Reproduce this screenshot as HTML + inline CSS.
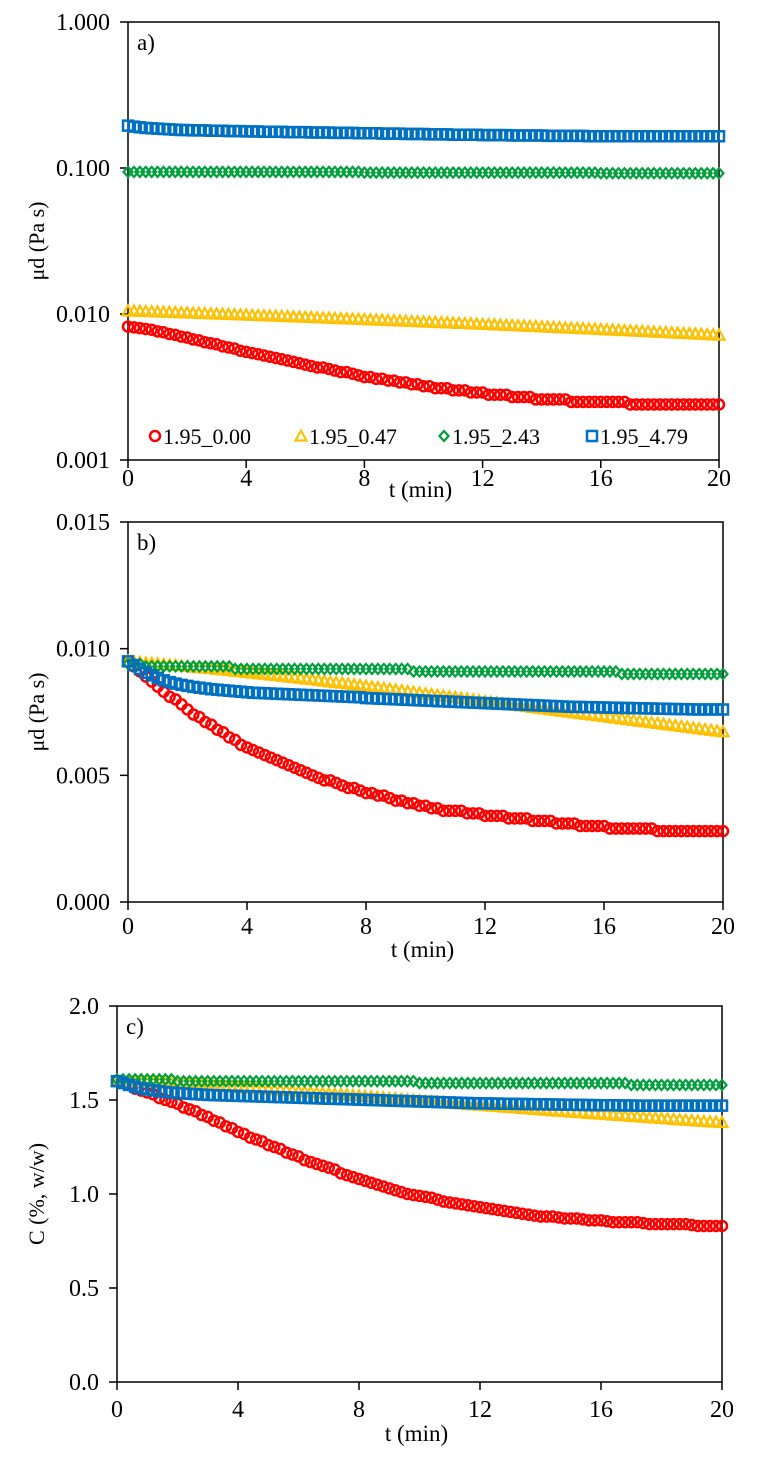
<!DOCTYPE html>
<html><head><meta charset="utf-8"><style>
body{margin:0;background:#fff;}
svg{display:block;font-family:"Liberation Serif",serif;}
</style></head><body>
<svg id="fig" width="757" height="1460" viewBox="0 0 757 1460"></svg>
<script>
const tValues = Array.from({length:101},(_,i)=>+(i*0.2).toFixed(1));
const seriesNames = ["1.95_0.00","1.95_0.47","1.95_2.43","1.95_4.79"];
const xTicks = [0,4,8,12,16,20];
// chart a (log)
const aRed = [0.0082,0.0081,0.0080,0.0079,0.0078,0.0076,0.0075,0.0073,0.0072,0.0070,0.0069,0.0067,0.0066,0.0064,0.0063,0.0062,0.0060,0.0059,0.0058,0.0056,
0.0055,0.0054,0.0053,0.0052,0.0051,0.0050,0.0049,0.0048,0.0047,0.0046,0.0045,0.0044,0.0043,0.0043,0.0042,0.0041,0.0040,0.0040,0.0039,0.0038,
0.0037,0.0037,0.0036,0.0036,0.0035,0.0035,0.0034,0.0034,0.0033,0.0033,0.0032,0.0032,0.0031,0.0031,0.0031,0.0030,0.0030,0.0030,0.0029,0.0029,
0.0029,0.0028,0.0028,0.0028,0.0028,0.0027,0.0027,0.0027,0.0027,0.0026,0.0026,0.0026,0.0026,0.0026,0.0026,0.0025,0.0025,0.0025,0.0025,0.0025,
0.0025,0.0025,0.0025,0.0025,0.0025,0.0024,0.0024,0.0024,0.0024,0.0024,0.0024,0.0024,0.0024,0.0024,0.0024,0.0024,0.0024,0.0024,0.0024,0.0024,0.0024];
const aYellow = [0.01050,0.01047,0.01043,0.01040,0.01037,0.01033,0.01030,0.01027,0.01023,0.01020,0.01017,0.01013,0.01010,0.01007,0.01003,0.01000,0.00997,0.00993,0.00990,0.00987,
0.00983,0.00980,0.00977,0.00973,0.00970,0.00967,0.00963,0.00960,0.00957,0.00953,0.00950,0.00947,0.00943,0.00940,0.00937,0.00933,0.00930,0.00927,0.00923,0.00920,
0.00917,0.00913,0.00910,0.00907,0.00903,0.00900,0.00897,0.00893,0.00890,0.00887,0.00883,0.00880,0.00877,0.00873,0.00870,0.00867,0.00863,0.00860,0.00857,0.00853,
0.00850,0.00847,0.00843,0.00840,0.00837,0.00833,0.00830,0.00827,0.00823,0.00820,0.00817,0.00813,0.00810,0.00807,0.00803,0.00800,0.00797,0.00793,0.00790,0.00787,
0.00783,0.00780,0.00777,0.00773,0.00770,0.00767,0.00763,0.00760,0.00757,0.00753,0.00750,0.00747,0.00743,0.00740,0.00737,0.00733,0.00730,0.00727,0.00723,0.00720,0.00717];
const aGreen = [0.094,0.094,0.094,0.094,0.094,0.094,0.094,0.094,0.094,0.094,0.094,0.094,0.094,0.094,0.094,0.094,0.094,0.094,0.094,0.094,
0.094,0.094,0.094,0.094,0.094,0.094,0.094,0.094,0.094,0.094,0.094,0.094,0.094,0.094,0.094,0.094,0.094,0.094,0.094,0.094,
0.093,0.093,0.093,0.093,0.093,0.093,0.093,0.093,0.093,0.093,0.093,0.093,0.093,0.093,0.093,0.093,0.093,0.093,0.093,0.093,
0.093,0.093,0.093,0.093,0.093,0.093,0.093,0.093,0.093,0.093,0.093,0.093,0.093,0.093,0.093,0.093,0.093,0.093,0.093,0.093,
0.092,0.092,0.092,0.092,0.092,0.092,0.092,0.092,0.092,0.092,0.092,0.092,0.092,0.092,0.092,0.092,0.092,0.092,0.092,0.092,0.092];
const aBlue = [0.195,0.192,0.190,0.188,0.187,0.186,0.185,0.184,0.183,0.182,0.182,0.181,0.181,0.181,0.180,0.180,0.180,0.179,0.179,0.179,
0.178,0.178,0.178,0.177,0.177,0.177,0.177,0.176,0.176,0.176,0.176,0.175,0.175,0.175,0.175,0.174,0.174,0.174,0.174,0.173,
0.173,0.173,0.173,0.172,0.172,0.172,0.172,0.171,0.171,0.171,0.171,0.170,0.170,0.170,0.170,0.169,0.169,0.169,0.169,0.169,
0.168,0.168,0.168,0.168,0.168,0.167,0.167,0.167,0.167,0.167,0.167,0.166,0.166,0.166,0.166,0.166,0.166,0.166,0.165,0.165,
0.165,0.165,0.165,0.165,0.165,0.165,0.165,0.165,0.165,0.165,0.165,0.165,0.165,0.165,0.165,0.165,0.165,0.165,0.165,0.165,0.165];
const aTicks = [0.001,0.01,0.1,1];
const aTickLabels = ["0.001","0.010","0.100","1.000"];
// chart b (linear)
const bRed = [0.0095,0.0093,0.0091,0.0089,0.0087,0.0085,0.0083,0.0081,0.0080,0.0078,0.0076,0.0074,0.0073,0.0071,0.0070,0.0068,0.0067,0.0065,0.0064,0.0062,
0.0061,0.0060,0.0059,0.0058,0.0057,0.0056,0.0055,0.0054,0.0053,0.0052,0.0051,0.0050,0.0049,0.0048,0.0048,0.0047,0.0046,0.0045,0.0045,0.0044,
0.0043,0.0043,0.0042,0.0042,0.0041,0.0040,0.0040,0.0039,0.0039,0.0038,0.0038,0.0037,0.0037,0.0036,0.0036,0.0036,0.0036,0.0035,0.0035,0.0035,
0.0034,0.0034,0.0034,0.0034,0.0033,0.0033,0.0033,0.0033,0.0032,0.0032,0.0032,0.0032,0.0031,0.0031,0.0031,0.0031,0.0030,0.0030,0.0030,0.0030,
0.0030,0.0029,0.0029,0.0029,0.0029,0.0029,0.0029,0.0029,0.0029,0.0028,0.0028,0.0028,0.0028,0.0028,0.0028,0.0028,0.0028,0.0028,0.0028,0.0028,0.0028];
const bYellow = [0.00950,0.00948,0.00946,0.00944,0.00942,0.00940,0.00938,0.00936,0.00934,0.00932,0.00930,0.00927,0.00925,0.00923,0.00921,0.00918,0.00916,0.00914,0.00911,0.00909,
0.00906,0.00904,0.00901,0.00899,0.00896,0.00894,0.00891,0.00888,0.00886,0.00883,0.00880,0.00878,0.00875,0.00872,0.00869,0.00866,0.00864,0.00861,0.00858,0.00855,
0.00852,0.00849,0.00846,0.00843,0.00840,0.00837,0.00834,0.00831,0.00828,0.00825,0.00822,0.00819,0.00816,0.00813,0.00810,0.00807,0.00804,0.00801,0.00798,0.00795,
0.00792,0.00789,0.00786,0.00783,0.00780,0.00777,0.00774,0.00771,0.00768,0.00765,0.00762,0.00759,0.00756,0.00753,0.00750,0.00747,0.00744,0.00741,0.00738,0.00735,
0.00732,0.00729,0.00726,0.00723,0.00720,0.00717,0.00714,0.00711,0.00708,0.00705,0.00702,0.00699,0.00696,0.00693,0.00690,0.00687,0.00684,0.00681,0.00678,0.00675,0.00672];
const bGreen = [0.0094,0.0094,0.0094,0.0093,0.0093,0.0093,0.0093,0.0093,0.0093,0.0093,0.0093,0.0093,0.0093,0.0093,0.0093,0.0093,0.0093,0.0093,0.0092,0.0092,
0.0092,0.0092,0.0092,0.0092,0.0092,0.0092,0.0092,0.0092,0.0092,0.0092,0.0092,0.0092,0.0092,0.0092,0.0092,0.0092,0.0092,0.0092,0.0092,0.0092,
0.0092,0.0092,0.0092,0.0092,0.0092,0.0092,0.0092,0.0092,0.0091,0.0091,0.0091,0.0091,0.0091,0.0091,0.0091,0.0091,0.0091,0.0091,0.0091,0.0091,
0.0091,0.0091,0.0091,0.0091,0.0091,0.0091,0.0091,0.0091,0.0091,0.0091,0.0091,0.0091,0.0091,0.0091,0.0091,0.0091,0.0091,0.0091,0.0091,0.0091,
0.0091,0.0091,0.0091,0.0090,0.0090,0.0090,0.0090,0.0090,0.0090,0.0090,0.0090,0.0090,0.0090,0.0090,0.0090,0.0090,0.0090,0.0090,0.0090,0.0090,0.0090];
const bBlue = [0.00950,0.00935,0.00920,0.00905,0.00895,0.00885,0.00875,0.00868,0.00862,0.00857,0.00853,0.00849,0.00846,0.00843,0.00840,0.00838,0.00836,0.00834,0.00832,0.00830,
0.00828,0.00826,0.00825,0.00824,0.00823,0.00822,0.00821,0.00820,0.00819,0.00818,0.00817,0.00816,0.00815,0.00814,0.00813,0.00812,0.00811,0.00810,0.00809,0.00808,
0.00805,0.00804,0.00803,0.00802,0.00801,0.00800,0.00799,0.00798,0.00797,0.00796,0.00795,0.00794,0.00793,0.00792,0.00791,0.00790,0.00789,0.00788,0.00787,0.00786,
0.00785,0.00784,0.00783,0.00782,0.00781,0.00780,0.00779,0.00778,0.00777,0.00776,0.00775,0.00774,0.00773,0.00772,0.00771,0.00770,0.00770,0.00769,0.00769,0.00768,
0.00768,0.00767,0.00767,0.00766,0.00766,0.00765,0.00765,0.00764,0.00764,0.00763,0.00763,0.00762,0.00762,0.00761,0.00761,0.00760,0.00760,0.00760,0.00760,0.00760,0.00760];
const bTicks = [0,0.005,0.010,0.015];
const bTickLabels = ["0.000","0.005","0.010","0.015"];
// chart c (linear)
const cRed = [1.60,1.59,1.58,1.56,1.55,1.54,1.53,1.51,1.50,1.49,1.48,1.46,1.45,1.44,1.42,1.41,1.39,1.38,1.36,1.35,
1.33,1.32,1.30,1.29,1.28,1.26,1.25,1.24,1.22,1.21,1.20,1.18,1.17,1.16,1.15,1.14,1.13,1.11,1.10,1.09,
1.08,1.07,1.06,1.05,1.04,1.03,1.02,1.01,1.00,0.995,0.99,0.985,0.98,0.97,0.96,0.955,0.95,0.945,0.94,0.935,
0.93,0.925,0.92,0.915,0.91,0.905,0.90,0.895,0.89,0.885,0.88,0.88,0.88,0.875,0.87,0.87,0.87,0.865,0.86,0.86,
0.86,0.855,0.85,0.85,0.85,0.85,0.85,0.845,0.84,0.84,0.84,0.84,0.84,0.84,0.84,0.835,0.83,0.83,0.83,0.83,0.83];
const cYellow = [1.600,1.599,1.598,1.597,1.596,1.594,1.593,1.591,1.590,1.588,1.586,1.585,1.583,1.581,1.579,1.577,1.575,1.573,1.571,1.569,
1.567,1.565,1.563,1.561,1.559,1.557,1.554,1.552,1.550,1.548,1.545,1.543,1.541,1.538,1.536,1.534,1.531,1.529,1.527,1.524,
1.522,1.519,1.517,1.514,1.512,1.509,1.507,1.504,1.502,1.499,1.497,1.494,1.492,1.489,1.487,1.484,1.481,1.479,1.476,1.474,
1.472,1.470,1.467,1.465,1.462,1.460,1.458,1.455,1.453,1.450,1.448,1.446,1.443,1.441,1.439,1.436,1.434,1.432,1.429,1.427,
1.425,1.423,1.420,1.418,1.416,1.413,1.411,1.409,1.406,1.404,1.402,1.400,1.397,1.395,1.393,1.391,1.388,1.386,1.384,1.382,1.380];
const cGreen = [1.61,1.61,1.61,1.61,1.61,1.61,1.61,1.61,1.61,1.61,1.60,1.60,1.60,1.60,1.60,1.60,1.60,1.60,1.60,1.60,
1.60,1.60,1.60,1.60,1.60,1.60,1.60,1.60,1.60,1.60,1.60,1.60,1.60,1.60,1.60,1.60,1.60,1.60,1.60,1.60,
1.60,1.60,1.60,1.60,1.60,1.60,1.60,1.60,1.60,1.60,1.59,1.59,1.59,1.59,1.59,1.59,1.59,1.59,1.59,1.59,
1.59,1.59,1.59,1.59,1.59,1.59,1.59,1.59,1.59,1.59,1.59,1.59,1.59,1.59,1.59,1.59,1.59,1.59,1.59,1.59,
1.59,1.59,1.59,1.59,1.59,1.58,1.58,1.58,1.58,1.58,1.58,1.58,1.58,1.58,1.58,1.58,1.58,1.58,1.58,1.58,1.58];
const cBlue = [1.600,1.590,1.580,1.570,1.562,1.556,1.551,1.547,1.543,1.540,1.537,1.535,1.533,1.531,1.529,1.527,1.526,1.525,1.524,1.523,
1.522,1.521,1.520,1.519,1.518,1.517,1.516,1.515,1.514,1.513,1.512,1.511,1.510,1.509,1.508,1.507,1.506,1.505,1.504,1.503,
1.502,1.501,1.500,1.499,1.498,1.497,1.496,1.495,1.494,1.493,1.492,1.491,1.490,1.489,1.488,1.487,1.486,1.485,1.484,1.483,
1.482,1.482,1.481,1.481,1.480,1.480,1.479,1.479,1.478,1.478,1.477,1.477,1.476,1.476,1.475,1.475,1.474,1.474,1.473,1.473,
1.472,1.472,1.472,1.471,1.471,1.471,1.470,1.470,1.470,1.470,1.470,1.470,1.470,1.470,1.470,1.470,1.470,1.470,1.470,1.470,1.470];
const cTicks = [0,0.5,1.0,1.5,2.0];
const cTickLabels = ["0.0","0.5","1.0","1.5","2.0"];

const NS="http://www.w3.org/2000/svg";
const svg=document.getElementById('fig');
function mk(tag,attrs,parent){const e=document.createElementNS(NS,tag);for(const k in attrs)e.setAttribute(k,attrs[k]);(parent||svg).appendChild(e);return e;}
const colors=["#ff0000","#ffc000","#00a03c","#0070c0"];
const kinds=["circle","triangle","diamond","square"];
function marker(kind,x,y,col,g){
  let e;
  if(kind==="circle") e=mk('circle',{cx:x,cy:y,r:5,fill:'none',stroke:col,'stroke-width':2.5},g);
  else if(kind==="triangle") e=mk('polygon',{points:`${x},${y-5.5} ${x+5.5},${y+4.5} ${x-5.5},${y+4.5}`,fill:'none',stroke:col,'stroke-width':2.2},g);
  else if(kind==="diamond") e=mk('polygon',{points:`${x},${y-5} ${x+4.5},${y} ${x},${y+5} ${x-4.5},${y}`,fill:'none',stroke:col,'stroke-width':2.2},g);
  else e=mk('rect',{x:x-5,y:y-5,width:10,height:10,fill:'none',stroke:col,'stroke-width':2.5},g);
  return e;
}
function chart(cfg){
  const g=mk('g',{});
  
  
  const {L,R,T,B}=cfg;
  const xs=t=>L+(t/20)*(R-L);
  const ys=cfg.log?(v=>B-(Math.log10(v)+3)/3*(B-T)):(v=>B-(v/cfg.ymax)*(B-T));
  const frame=mk('rect',{x:L,y:T,width:R-L,height:B-T,fill:'none',stroke:'#000','stroke-width':1.5},g);
  
  
  cfg.yTicks.forEach((v,i)=>{
    const y=ys(v);
    mk('line',{x1:L-8,y1:y,x2:L,y2:y,stroke:'#000','stroke-width':1.5},g);
    const tx=mk('text',{x:L-18,y:y+8,'text-anchor':'end','font-size':24},g);
    tx.textContent=cfg.yLabels[i];
    
    
  });
  xTicks.forEach(v=>{
    const x=xs(v);
    mk('line',{x1:x,y1:B,x2:x,y2:B+8,stroke:'#000','stroke-width':1.5},g);
    const tx=mk('text',{x:x,y:cfg.xLabY,'text-anchor':'middle','font-size':24},g);
    tx.textContent=String(v);
    
    
  });
  const xt=mk('text',{x:(L+R)/2-3,y:cfg.xTitleY,'text-anchor':'middle','font-size':23},g);
  xt.textContent='t (min)';
  
  
  const yy=(T+B)/2;
  const yt=mk('text',{x:44,y:yy,'text-anchor':'middle','font-size':22,transform:`rotate(-90 44 ${yy})`},g);
  yt.textContent=cfg.yTitle;
  
  
  const pl=mk('text',{x:L+9,y:T+28,'font-size':23},g);
  pl.textContent=cfg.panel;
  
  
  cfg.series.forEach((arr,si)=>{
    const sg=mk('g',{},g);
    
    
    arr.forEach((v,i)=>{
      const m=marker(kinds[si],xs(tValues[i]),ys(v),colors[si],sg);
      
      
    });
  });
  if(cfg.legend){
    const lg=mk('g',{},g);
    
    
    const lx=[155,301,444,592];
    seriesNames.forEach((n,i)=>{
      const eg=mk('g',{},lg);
      
      
      marker(kinds[i],lx[i],436,colors[i],eg);
      const t=mk('text',{x:lx[i]+8,y:444,'font-size':22},eg);
      t.textContent=n;
    });
  }
}
chart({name:'chart-a',L:128,R:719,T:22,B:460,log:true,yTicks:aTicks,yLabels:aTickLabels,yTitle:'μd (Pa s)',panel:'a)',xLabY:486,xTitleY:497,series:[aRed,aYellow,aGreen,aBlue],legend:true});
chart({name:'chart-b',L:128,R:723,T:522,B:902,ymax:0.015,yTicks:bTicks,yLabels:bTickLabels,yTitle:'μd (Pa s)',panel:'b)',xLabY:934,xTitleY:957,series:[bRed,bYellow,bGreen,bBlue]});
chart({name:'chart-c',L:117,R:722,T:1006,B:1382,ymax:2.0,yTicks:cTicks,yLabels:cTickLabels,yTitle:'C (%, w/w)',panel:'c)',xLabY:1417,xTitleY:1441,series:[cRed,cYellow,cGreen,cBlue]});
</script>
</body></html>
